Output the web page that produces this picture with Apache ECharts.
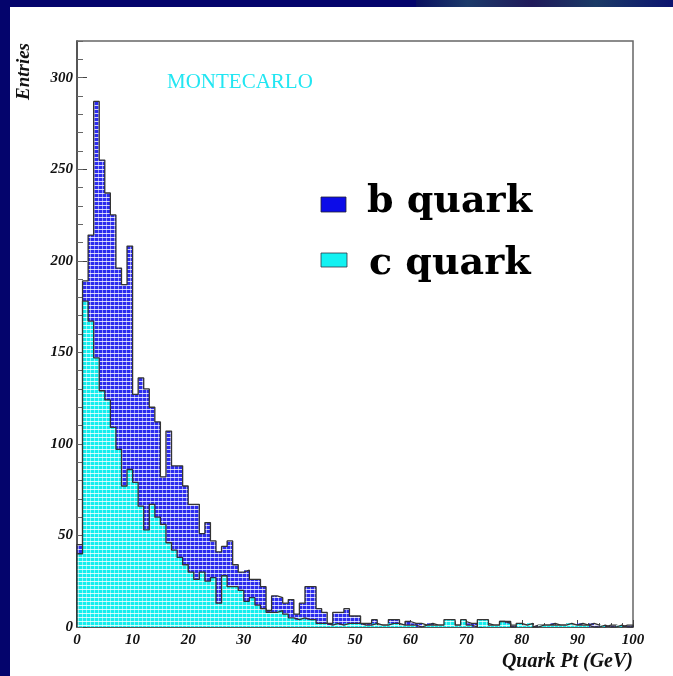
<!DOCTYPE html>
<html>
<head>
<meta charset="utf-8">
<script src="https://cdn.jsdelivr.net/npm/echarts@6/dist/echarts.min.js"></script>
<style>
  html, body { margin: 0; padding: 0; }
  body { width: 673px; height: 676px; background: #04046c; position: relative; overflow: hidden; }
  .deco { position: absolute; left: 416px; top: 0; width: 257px; height: 7px;
          background: linear-gradient(90deg, #0a1060, #1c3a6a 20%, #201a5a 45%, #1a3a66 70%, #0c1470); }
  .paper { position: absolute; left: 10px; top: 7px; right: 0; bottom: 0; background: #fff; }
  #main { position: absolute; left: 0; top: 0; width: 673px; height: 676px; }
</style>
</head>
<body>
<div class="deco"></div>
<div class="paper"></div>
<div id="main"></div>
<script>
// entries per 1 GeV bin, 0..100 GeV
const bQuark = [
  45, 189, 214, 287, 255, 237, 225, 196, 187, 208,
  127, 136, 130, 120, 112, 82, 107, 88, 88, 77,
  67, 67, 51, 57, 47, 41, 44, 47, 34, 30,
  31, 26, 26, 22, 9, 17, 16, 13, 15, 7,
  13, 22, 22, 10, 8, 2, 8, 8, 10, 6,
  6, 2, 2, 4, 1, 1, 4, 4, 1, 3,
  2, 2, 1, 2, 1, 1, 2, 3, 1, 3,
  2, 2, 0, 2, 1, 1, 3, 3, 1, 1,
  1, 0, 1, 1, 1, 2, 1, 1, 1, 1,
  2, 1, 2, 1, 0, 1, 1, 0, 1, 1
];
const cQuark = [
  40, 178, 167, 147, 129, 124, 109, 97, 77, 86,
  79, 66, 53, 67, 60, 56, 46, 42, 38, 34,
  30, 26, 30, 25, 27, 13, 28, 22, 22, 20,
  14, 16, 12, 10, 8, 8, 9, 7, 5, 4,
  5, 4, 4, 2, 2, 1, 2, 1, 2, 2,
  2, 1, 1, 2, 1, 1, 2, 2, 1, 1,
  1, 0, 1, 1, 1, 1, 4, 4, 1, 4,
  1, 0, 4, 4, 1, 1, 3, 2, 0, 2,
  1, 2, 0, 1, 1, 1, 1, 1, 2, 1,
  1, 1, 0, 0, 1, 0, 0, 1, 0, 0
];
const BIN_WIDTH = 1;
const binStart = bQuark.map((_, i) => i * BIN_WIDTH);
const xTicks = ['0', '10', '20', '30', '40', '50', '60', '70', '80', '90', '100'];
const yTicks = ['0', '50', '100', '150', '200', '250', '300'];

function hatch(base) {
  const c = document.createElement('canvas');
  c.width = 4; c.height = 4;
  const g = c.getContext('2d');
  g.fillStyle = base; g.fillRect(0, 0, 4, 4);
  g.fillStyle = 'rgba(255,255,255,0.8)'; g.fillRect(0, 1, 4, 1);
  g.fillStyle = 'rgba(255,255,255,0.5)'; g.fillRect(2, 0, 1, 4);
  return c;
}
const bFill = { image: hatch('#2c2cee'), repeat: 'repeat' };
const cFill = { image: hatch('#14eeee'), repeat: 'repeat' };

function histBars(fill) {
  return function (params, api) {
    const lo = api.value(0);
    const top = api.coord([lo, api.value(1)]);
    const bot = api.coord([lo + BIN_WIDTH, 0]);
    const x0 = Math.round(top[0]), x1 = Math.round(bot[0]);
    return { type: 'rect', shape: { x: x0, y: top[1], width: x1 - x0, height: bot[1] - top[1] },
             style: { fill: fill } };
  };
}
function outline(vals) {
  const pts = [[0, 0]];
  vals.forEach((v, i) => pts.push([binStart[i], v]));
  pts.push([binStart[vals.length - 1] + BIN_WIDTH, vals[vals.length - 1]]);
  pts.push([binStart[vals.length - 1] + BIN_WIDTH, 0]);
  return pts;
}

const serif = "'Liberation Serif', 'Times New Roman', serif";
const tickLabel = { fontFamily: serif, fontStyle: 'italic', fontWeight: 'bold', fontSize: 15, color: '#111' };
const legendFont = { fontFamily: "'DejaVu Serif', serif", fontWeight: 'bold', fontSize: 38, fill: '#000',
                     textAlign: 'left', textVerticalAlign: 'top' };

const chart = echarts.init(document.getElementById('main'), null, { renderer: 'canvas' });
chart.setOption({
  animation: false,
  backgroundColor: 'transparent',
  grid: { left: 77, right: 40, top: 41, bottom: 49, show: true, borderColor: '#666', borderWidth: 1.5,
          backgroundColor: 'transparent' },
  xAxis: {
    type: 'value', min: 0, max: 100, interval: 10,
    axisLine: { show: true, lineStyle: { color: '#444', width: 1.5 } },
    axisTick: { inside: true, length: 7, lineStyle: { color: '#444' } },
    minorTick: { show: true, splitNumber: 5, length: 4, lineStyle: { color: '#555' } },
    axisLabel: Object.assign({ margin: 6, formatter: v => xTicks[Math.round(v / 10)] }, tickLabel),
    splitLine: { show: false }
  },
  yAxis: [{
    type: 'value', min: 0, max: 320, interval: 50, position: 'left',
    axisLine: { show: true, lineStyle: { color: '#444', width: 1.5 } },
    axisTick: { inside: true, length: 10, lineStyle: { color: '#444' } },
    axisLabel: Object.assign({ margin: 4, showMaxLabel: false,
      formatter: v => yTicks[Math.round(v / 50)] || '' }, tickLabel),
    splitLine: { show: false }
  }, {
    type: 'value', min: 0, max: 320, interval: 10, position: 'left',
    axisLine: { show: false },
    axisTick: { inside: true, length: 6, lineStyle: { color: '#666' } },
    axisLabel: { show: false },
    splitLine: { show: false }
  }],
  series: [
    { type: 'custom', name: 'b quark', z: 2, renderItem: histBars(bFill),
      data: bQuark.map((v, i) => [binStart[i], v]) },
    { type: 'line', z: 3, step: 'end', symbol: 'none', data: outline(bQuark),
      lineStyle: { color: '#333', width: 1.3 } },
    { type: 'custom', name: 'c quark', z: 4, renderItem: histBars(cFill),
      data: cQuark.map((v, i) => [binStart[i], v]) },
    { type: 'line', z: 5, step: 'end', symbol: 'none', data: outline(cQuark),
      lineStyle: { color: '#333', width: 1.3 } }
  ],
  graphic: [
    { type: 'text', x: 24, y: 43, rotation: Math.PI / 2, z: 10,
      style: { text: 'Entries', fontFamily: serif, fontStyle: 'italic', fontWeight: 'bold', fontSize: 19,
               fill: '#111', textAlign: 'right', textVerticalAlign: 'middle' } },
    { type: 'text', x: 633, y: 662, z: 10,
      style: { text: 'Quark Pt (GeV)', fontFamily: serif, fontStyle: 'italic', fontWeight: 'bold', fontSize: 20,
               fill: '#111', textAlign: 'right', textVerticalAlign: 'middle' } },
    { type: 'text', x: 167, y: 82, z: 10,
      style: { text: 'MONTECARLO', fontFamily: serif, fontSize: 21, fill: '#22e6f2',
               textAlign: 'left', textVerticalAlign: 'middle' } },
    { type: 'rect', z: 10, shape: { x: 321, y: 197, width: 25, height: 15 },
      style: { fill: '#0c0ce8', stroke: '#223', lineWidth: 0.8 } },
    { type: 'rect', z: 10, shape: { x: 321, y: 253, width: 26, height: 14 },
      style: { fill: '#12f2f2', stroke: '#334', lineWidth: 0.8 } },
    { type: 'text', x: 367, y: 183, z: 10, style: Object.assign({ text: 'b quark' }, legendFont) },
    { type: 'text', x: 369, y: 245, z: 10, style: Object.assign({ text: 'c quark' }, legendFont) }
  ]
});
</script>
</body>
</html>
